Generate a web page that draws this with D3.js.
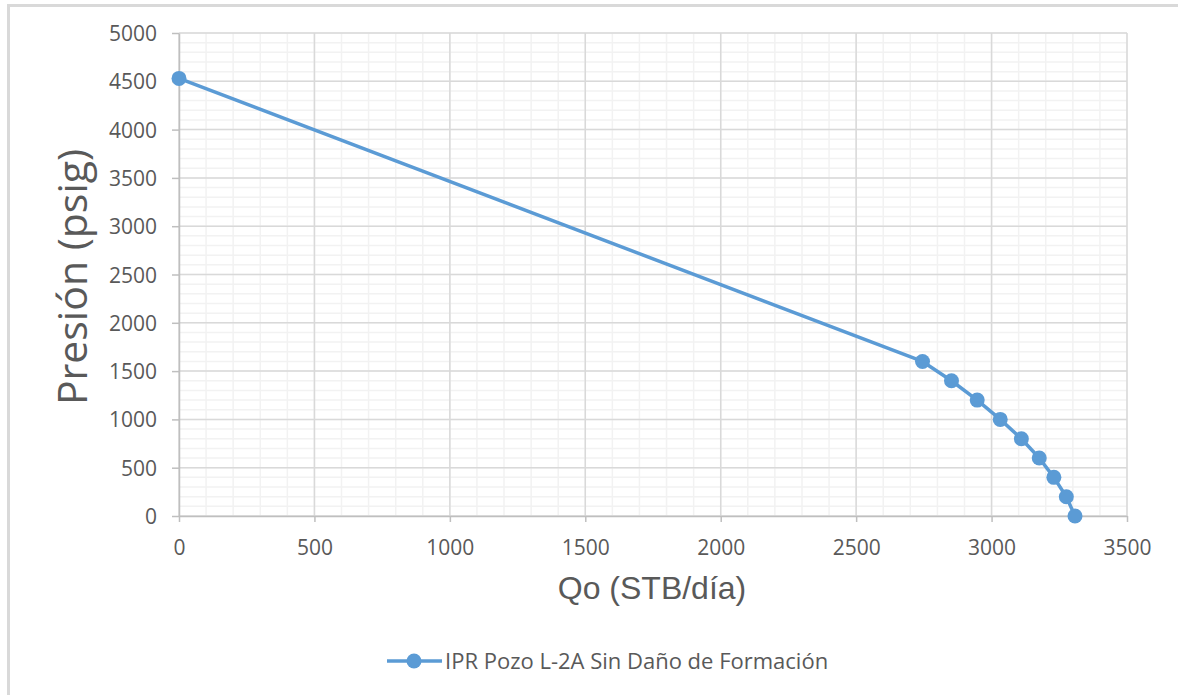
<!DOCTYPE html>
<html>
<head>
<meta charset="utf-8">
<script src="https://cdn.jsdelivr.net/npm/d3@7"></script>
<style>
  body { margin: 0; background: #fff; }
  svg { display: block; font-family: "Open Sans", "Noto Sans", sans-serif; }
</style>
</head>
<body>
<svg id="canvas"></svg>
<script>
// IPR curve
let qo = [0, 2745, 2852, 2947, 3032, 3110, 3176, 3230, 3276, 3308];
let pwf = [4530, 1600, 1400, 1200, 1000, 800, 600, 400, 200, 0];
let xTicks = [0, 500, 1000, 1500, 2000, 2500, 3000, 3500];
let yTicks = [0, 500, 1000, 1500, 2000, 2500, 3000, 3500, 4000, 4500, 5000];
let seriesName = "IPR Pozo L-2A Sin Daño de Formación";

let width = 1178;
let height = 695;
let plotLeft = 179, plotRight = 1127, plotTop = 33, plotBottom = 516;
let blue = "#5b9bd5";

let canvas = d3.select("#canvas").attr("width", width).attr("height", height);

// outer chart border
canvas.append("rect")
  .attr("x", 8.5).attr("y", 5.5)
  .attr("width", width + 20).attr("height", height + 20)
  .attr("fill", "none").attr("stroke", "#d9d9d9").attr("stroke-width", 3);

let xScale = d3.scaleLinear().domain([0, 3500]).range([plotLeft, plotRight]);
let yScale = d3.scaleLinear().domain([0, 5000]).range([plotBottom, plotTop]);

let minorX = d3.range(0, 3501, 100);
let minorY = d3.range(0, 5001, 100);

let grid = canvas.append("g");
grid.selectAll(".mx").data(minorX).enter().append("line")
  .attr("x1", (d) => xScale(d)).attr("x2", (d) => xScale(d))
  .attr("y1", plotTop).attr("y2", plotBottom)
  .attr("stroke", "#f2f2f2").attr("stroke-width", 1.5);
grid.selectAll(".my").data(minorY).enter().append("line")
  .attr("y1", (d) => yScale(d)).attr("y2", (d) => yScale(d))
  .attr("x1", plotLeft).attr("x2", plotRight)
  .attr("stroke", "#f2f2f2").attr("stroke-width", 1.5);
grid.selectAll(".Mx").data(xTicks).enter().append("line")
  .attr("x1", (d) => xScale(d)).attr("x2", (d) => xScale(d))
  .attr("y1", plotTop).attr("y2", plotBottom)
  .attr("stroke", "#d9d9d9").attr("stroke-width", 1.5);
grid.selectAll(".My").data(yTicks).enter().append("line")
  .attr("y1", (d) => yScale(d)).attr("y2", (d) => yScale(d))
  .attr("x1", plotLeft).attr("x2", plotRight)
  .attr("stroke", "#d9d9d9").attr("stroke-width", 1.5);

let xAxis = d3.axisBottom(xScale).tickValues(xTicks).tickFormat(d3.format("d"))
  .tickSize(6).tickSizeOuter(0).tickPadding(18);
let yAxis = d3.axisLeft(yScale).tickValues(yTicks).tickFormat(d3.format("d"))
  .tickSize(7).tickSizeOuter(0).tickPadding(15);

let gx = canvas.append("g")
  .attr("transform", "translate(0," + plotBottom + ")")
  .call(xAxis);
let gy = canvas.append("g")
  .attr("transform", "translate(" + plotLeft + ",0)")
  .call(yAxis);

[gx, gy].forEach((g) => {
  g.select(".domain").attr("stroke", "#bfbfbf").attr("stroke-width", 1.5);
  g.selectAll(".tick line").attr("stroke", "#bfbfbf").attr("stroke-width", 1.5);
  g.selectAll(".tick text")
    .attr("fill", "#595959")
    .style("font-size", "21px")
    .style("font-family", "'Open Sans', 'Noto Sans', sans-serif");
});
gy.selectAll(".tick text").attr("dy", "0.36em");

let points = qo.map((q, i) => ({ q: q, p: pwf[i] }));

let line = d3.line()
  .x((d) => xScale(d.q))
  .y((d) => yScale(d.p));

canvas.append("path")
  .datum(points)
  .attr("d", line)
  .attr("fill", "none")
  .attr("stroke", blue)
  .attr("stroke-width", 3.5)
  .attr("stroke-linejoin", "round");

canvas.selectAll(".pt").data(points).enter().append("circle")
  .attr("cx", (d) => xScale(d.q))
  .attr("cy", (d) => yScale(d.p))
  .attr("r", 7.5)
  .attr("fill", blue);

// axis titles
canvas.append("text")
  .attr("x", 652).attr("y", 599)
  .attr("text-anchor", "middle")
  .attr("fill", "#595959")
  .style("font-family", "'Liberation Sans', Arial, sans-serif")
  .style("font-size", "32px")
  .text("Qo (STB/día)");

canvas.append("text")
  .attr("transform", "translate(87,277) rotate(-90)")
  .attr("text-anchor", "middle")
  .attr("fill", "#595959")
  .style("font-size", "41px")
  .text("Presión (psig)");

// legend
let lg = canvas.append("g").attr("transform", "translate(387,661)");
lg.append("line").attr("x1", 0).attr("x2", 55).attr("y1", 0).attr("y2", 0)
  .attr("stroke", blue).attr("stroke-width", 3.5);
lg.append("circle").attr("cx", 27).attr("cy", 0).attr("r", 7.5).attr("fill", blue);
lg.append("text")
  .attr("x", 58).attr("y", 0).attr("dy", "0.35em")
  .attr("fill", "#595959")
  .style("font-size", "22px")
  .text(seriesName);
</script>
</body>
</html>
